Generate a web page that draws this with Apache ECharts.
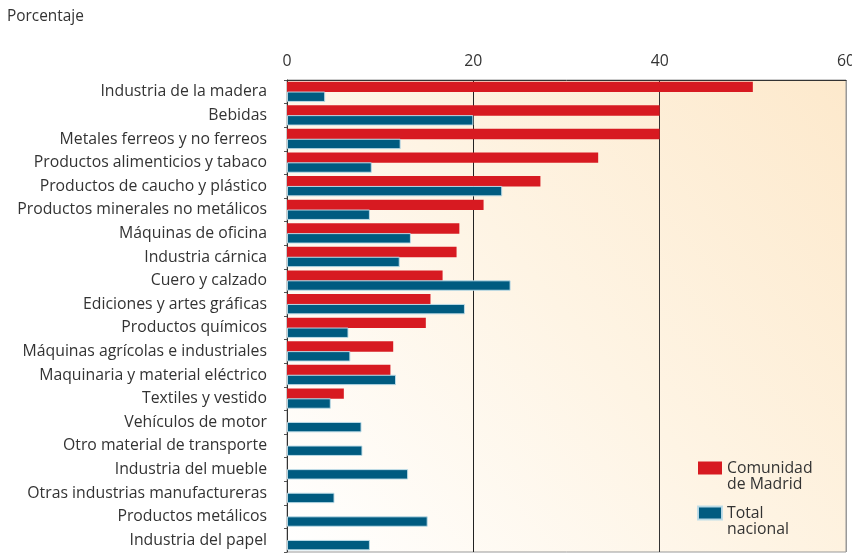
<!DOCTYPE html>
<html>
<head>
<meta charset="utf-8">
<script src="https://cdn.jsdelivr.net/npm/echarts@6/dist/echarts.min.js"></script>
<style>
  html, body { margin: 0; padding: 0; background: #fff; }
  #main { width: 852px; height: 556px; }
</style>
</head>
<body>
<div id="main"></div>
<script>
// categorias (de arriba abajo)
var categories = [
  'Industria de la madera',
  'Bebidas',
  'Metales ferreos y no ferreos',
  'Productos alimenticios y tabaco',
  'Productos de caucho y plástico',
  'Productos minerales no metálicos',
  'Máquinas de oficina',
  'Industria cárnica',
  'Cuero y calzado',
  'Ediciones y artes gráficas',
  'Productos químicos',
  'Máquinas agrícolas e industriales',
  'Maquinaria y material eléctrico',
  'Textiles y vestido',
  'Vehículos de motor',
  'Otro material de transporte',
  'Industria del mueble',
  'Otras industrias manufactureras',
  'Productos metálicos',
  'Industria del papel'
]
// Comunidad de Madrid
var madrid = [50.0, 40, 40, 33.4, 27.2, 21.1, 18.5, 18.2, 16.7, 15.4,
  14.9, 11.4, 11.1, 6.1, null, null, null, null, null, null]
// Total nacional
var nacional = [4.1, 20.0, 12.2, 9.1, 23.1, 8.9, 13.3, 12.1, 24.0, 19.1,
  6.6, 6.8, 11.7, 4.7, 8.0, 8.1, 13.0, 5.1, 15.1, 8.9]
var xTicks = [0, 20, 40, 60]

var seriesNames = ['Comunidad de Madrid', 'Total nacional']
// linea vacia arriba para que el texto empiece a la altura del icono
var legendLabels = { 'Comunidad de Madrid': '\nComunidad\nde Madrid', 'Total nacional': '\nTotal\nnacional' }

var chart = echarts.init(document.getElementById('main'))
var font = '"Open Sans", "Noto Sans", sans-serif'

chart.setOption({
  animation: false,
  textStyle: { fontFamily: font },
  title: {
    text: 'Porcentaje',
    left: 2,
    top: 4,
    textStyle: { fontSize: 15.4, fontWeight: 'normal', color: '#333', fontFamily: font }
  },
  legend: {
    orient: 'vertical',
    left: 697,
    top: 444,
    height: 130,
    padding: 0,
    itemWidth: 24,
    itemHeight: 13,
    itemGap: -3,
    icon: 'rect',
    data: seriesNames,
    formatter: function (n) { return legendLabels[n] },
    textStyle: { fontSize: 15.8, color: '#333', lineHeight: 16, fontFamily: font }
  },
  grid: {
    left: 287,
    right: 6,
    top: 80,
    bottom: 4,
    outerBoundsMode: 'none',
    show: true,
    borderColor: '#999',
    borderWidth: 1,
    backgroundColor: {
      type: 'linear', x: 0, y: 1, x2: 1, y2: 0,
      colorStops: [
        { offset: 0, color: '#ffffff' },
        { offset: 0.5, color: '#fef4e4' },
        { offset: 1, color: '#fde9cc' }
      ]
    }
  },
  xAxis: {
    type: 'value',
    position: 'top',
    min: xTicks[0],
    max: xTicks[xTicks.length - 1],
    interval: 20,
    axisLine: { show: true, lineStyle: { color: '#333' } },
    axisTick: { show: false },
    axisLabel: { fontSize: 15.8, color: '#333', margin: 11 },
    splitLine: { show: true, lineStyle: { color: ['#333', '#222', '#333', '#999'], width: 1 } }
  },
  yAxis: {
    type: 'category',
    inverse: true,
    data: categories,
    axisLine: { show: true, lineStyle: { color: '#333' } },
    axisTick: { show: true, length: 3, lineStyle: { color: '#555' } },
    axisLabel: { fontSize: 15.8, color: '#333', margin: 20 }
  },
  series: [
    {
      name: seriesNames[0],
      type: 'bar',
      data: madrid,
      itemStyle: { color: '#d71a21' },
      barCategoryGap: '14%',
      barGap: '-5%'
    },
    {
      name: seriesNames[1],
      type: 'bar',
      data: nacional,
      itemStyle: { color: '#005b80', borderColor: 'rgba(190,220,232,0.95)', borderWidth: 1 },
      barCategoryGap: '14%',
      barGap: '-5%'
    }
  ]
})
</script>
</body>
</html>
